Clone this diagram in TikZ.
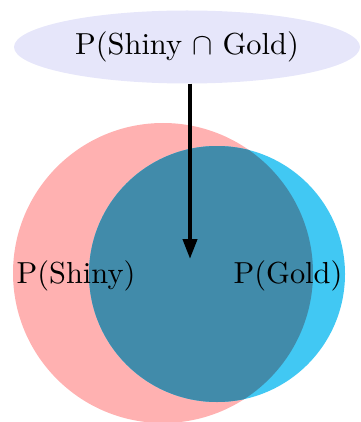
\documentclass[tikz,border=0pt]{standalone}
\usetikzlibrary{arrows.meta,shapes.geometric}
\definecolor{lav}{RGB}{230,230,250}
\definecolor{pinkc}{RGB}{255,177,177}
\definecolor{bluec}{RGB}{65,200,243}
\definecolor{darkc}{RGB}{65,139,170}
\begin{document}
\begin{tikzpicture}[x=1pt,y=-1pt,
  lbl/.style={inner sep=0pt},
  arr/.style={line width=4pt,-{Triangle[length=20pt,width=14pt]}}]
\useasboundingbox (0,0) rectangle (360,422);
\fill[pinkc] (163,273) circle[radius=150];
\fill[bluec] (217,274) circle[radius=128];
\begin{scope}
  \clip (163,273) circle[radius=150];
  \fill[darkc] (217,274) circle[radius=128];
\end{scope}
\node[ellipse,fill=lav,minimum width=346pt,minimum height=73pt,inner sep=0pt] (top) at (187,47) {\scalebox{3.04}{P(Shiny $\cap$ Gold)}};
\node[lbl,anchor=base] (shiny) at (76,283) {\scalebox{3.04}{P(Shiny)}};
\node[lbl,anchor=base] (gold) at (288,283) {\scalebox{3.04}{P(Gold)}};
\coordinate (tip) at (190,259);
\draw[arr] (tip |- top.south) -- (tip);
\end{tikzpicture}
\end{document}
